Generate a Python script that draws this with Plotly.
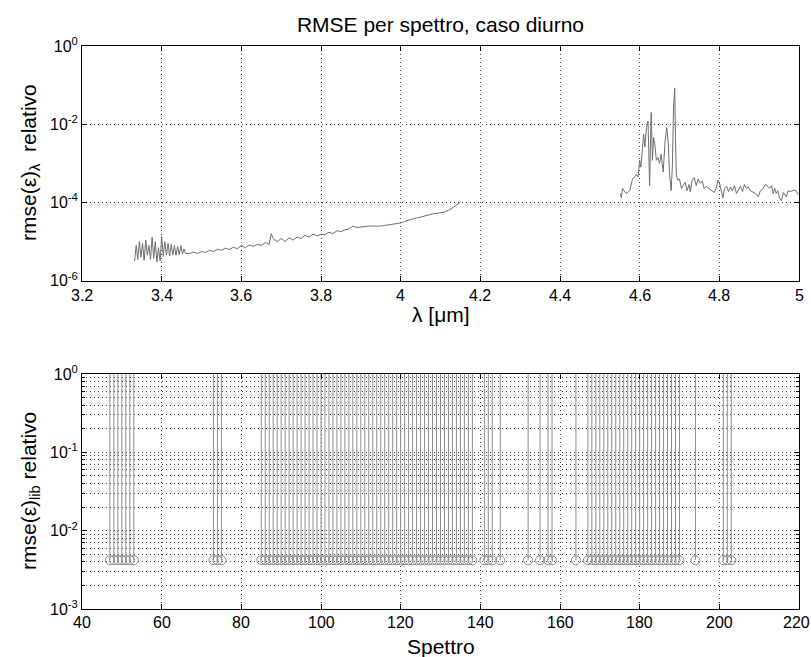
import plotly.graph_objects as go

# ---------------- data: top panel (relative RMSE per wavelength) ----------------
lam_a = [3.332, 3.336, 3.340, 3.344, 3.348, 3.352, 3.356, 3.360, 3.364, 3.368, 3.372,
         3.376, 3.380, 3.384, 3.388, 3.392, 3.396, 3.400, 3.404, 3.408, 3.412, 3.416,
         3.420, 3.424, 3.428, 3.432, 3.436, 3.440, 3.444, 3.448, 3.452, 3.456, 3.460,
         3.47, 3.48, 3.49, 3.50, 3.51, 3.52, 3.53, 3.54, 3.55, 3.56, 3.57, 3.58, 3.59,
         3.60, 3.61, 3.62, 3.63, 3.64, 3.65, 3.66, 3.67, 3.675, 3.68, 3.69, 3.70, 3.71,
         3.72, 3.73, 3.74, 3.75, 3.76, 3.77, 3.78, 3.79, 3.80, 3.81, 3.82, 3.83, 3.84,
         3.85, 3.86, 3.87, 3.88, 3.89, 3.90, 3.91, 3.92, 3.93, 3.94, 3.95, 3.96, 3.97,
         3.98, 3.99, 4.00, 4.01, 4.02, 4.03, 4.04, 4.05, 4.06, 4.07, 4.08, 4.09, 4.10,
         4.11, 4.12, 4.13, 4.14, 4.15]
rmse_a = [3.2e-6, 8e-6, 3.5e-6, 1.0e-5, 4e-6, 9e-6, 3.3e-6, 1.1e-5, 4.5e-6, 8e-6, 3.5e-6,
          1.3e-5, 3.8e-6, 1.0e-5, 3.0e-6, 7e-6, 3.2e-6, 1.35e-5, 4.2e-6, 1.0e-5, 4.5e-6, 9e-6,
          4.3e-6, 8.5e-6, 4.6e-6, 8e-6, 4.5e-6, 7.5e-6, 4.6e-6, 8e-6, 4.8e-6, 6.5e-6, 5e-6,
          5.0e-6, 5.4e-6, 5.0e-6, 5.6e-6, 5.3e-6, 6.0e-6, 5.6e-6, 6.4e-6, 6.0e-6, 6.8e-6, 6.3e-6, 7.2e-6, 6.6e-6,
          8.0e-6, 7.0e-6, 8.2e-6, 7.6e-6, 8.5e-6, 8.0e-6, 9.5e-6, 8.5e-6, 1.6e-5, 1.2e-5, 1.0e-5, 1.2e-5, 1.0e-5,
          1.25e-5, 1.1e-5, 1.3e-5, 1.2e-5, 1.45e-5, 1.3e-5, 1.55e-5, 1.4e-5, 1.55e-5, 1.5e-5, 1.75e-5, 1.6e-5, 1.9e-5,
          1.8e-5, 2.0e-5, 2.1e-5, 2.5e-5, 2.3e-5, 2.4e-5, 2.4e-5, 2.5e-5, 2.5e-5, 2.45e-5, 2.5e-5, 2.6e-5, 2.7e-5,
          2.9e-5, 2.9e-5, 3.0e-5, 3.3e-5, 3.6e-5, 3.8e-5, 4.0e-5, 4.2e-5, 4.5e-5, 4.8e-5, 5.1e-5, 5.3e-5, 5.5e-5,
          5.7e-5, 6.3e-5, 7.2e-5, 8.5e-5, 1.02e-4]

lam_b = [4.552, 4.554, 4.557, 4.566, 4.575, 4.582, 4.587, 4.592, 4.596, 4.600, 4.603, 4.606,
         4.610, 4.613, 4.617, 4.621, 4.625, 4.628, 4.629, 4.632, 4.635, 4.638, 4.642, 4.646,
         4.650, 4.654, 4.659, 4.664, 4.668, 4.672, 4.675, 4.679, 4.682, 4.685, 4.688, 4.690,
         4.692, 4.695, 4.700, 4.705, 4.709, 4.714, 4.719, 4.724, 4.727, 4.732, 4.737, 4.742,
         4.747, 4.752, 4.757, 4.762, 4.767, 4.774, 4.781, 4.787, 4.792, 4.797, 4.801, 4.806,
         4.809, 4.813, 4.818, 4.823, 4.828, 4.833, 4.838, 4.843, 4.848, 4.853, 4.858, 4.863,
         4.868, 4.873, 4.878, 4.885, 4.891, 4.898, 4.903, 4.910, 4.916, 4.921, 4.926, 4.931,
         4.935, 4.939, 4.943, 4.947, 4.951, 4.956, 4.961, 4.968, 4.973, 4.978, 4.983, 4.988,
         4.993, 4.998]
rmse_b = [1.7e-4, 1.3e-4, 2.3e-4, 1.7e-4, 2.0e-4, 4.0e-4, 4.5e-4, 5.2e-4, 4.5e-4, 1.2e-3, 8e-4, 1.7e-3,
          5.6e-3, 2.6e-3, 8.2e-3, 1.2e-2, 2.7e-4, 9e-3, 2e-2, 1.2e-3, 4.6e-3, 3.1e-3, 1.2e-3, 1.4e-3,
          1.0e-3, 1.7e-3, 6e-4, 3.8e-3, 8.2e-3, 3.1e-3, 5.4e-4, 2.0e-4, 8e-4, 2.6e-2, 8.5e-2, 3.8e-3,
          5.4e-4, 3.7e-4, 4e-4, 2.3e-4, 2.7e-4, 3.3e-4, 2.0e-4, 2.9e-4, 1.9e-4, 3.7e-4, 4.3e-4, 2.7e-4,
          4.0e-4, 3.1e-4, 3.5e-4, 2.3e-4, 2.6e-4, 2.3e-4, 2.0e-4, 1.8e-4, 2.3e-4, 3.8e-4, 3.0e-4, 1.9e-4,
          1.3e-4, 2.3e-4, 2.6e-4, 1.9e-4, 2.5e-4, 2.0e-4, 2.7e-4, 1.7e-4, 2.2e-4, 2.6e-4, 1.9e-4, 2.9e-4,
          2.3e-4, 2.5e-4, 2.0e-4, 1.8e-4, 1.7e-4, 1.4e-4, 2.0e-4, 2.3e-4, 2.9e-4, 2.6e-4, 2.3e-4, 2.7e-4,
          1.7e-4, 2.3e-4, 1.7e-4, 2.0e-4, 1.3e-4, 1.1e-4, 1.8e-4, 1.4e-4, 2.0e-4, 1.9e-4, 2.0e-4, 2.1e-4,
          2.0e-4, 1.6e-4]

# ---------------- data: bottom panel (relative RMSE per library spectrum) ----------------
spettro = [47, 48, 49, 50, 51, 52, 53,
           73, 74, 75,
           85, 86, 87, 88, 89, 90, 91, 92, 93, 94, 95, 96, 97, 98, 99, 100, 101, 102, 103, 104,
           105, 106, 107, 108, 109, 110, 111, 112, 113, 114, 115, 116, 117, 118, 119, 120, 121,
           122, 123, 124, 125, 126, 127, 128, 129, 130, 131, 132, 133, 134, 135, 136, 137, 138,
           141, 142, 143, 145,
           152, 155, 157, 158,
           164,
           167, 168, 169, 170, 171, 172, 173, 174, 175, 176, 177, 178, 179, 180, 181, 182, 183,
           184, 185, 186, 187, 188, 189, 190,
           194,
           201, 202, 203]
rmse_lib = [0.0042] * len(spettro)
stem_top = 1.0  # stems run up to the top of the log axis

# ---------------- tick labels ----------------
top_x_ticks = [3.2, 3.4, 3.6, 3.8, 4.0, 4.2, 4.4, 4.6, 4.8, 5.0]
top_x_text = ["3.2", "3.4", "3.6", "3.8", "4", "4.2", "4.4", "4.6", "4.8", "5"]
top_y_ticks = [1e-6, 1e-4, 1e-2, 1e0]
top_y_text = ["10<sup>-6</sup>", "10<sup>-4</sup>", "10<sup>-2</sup>", "10<sup>0</sup>"]
bot_x_ticks = [40, 60, 80, 100, 120, 140, 160, 180, 200, 220]
bot_x_text = ["40", "60", "80", "100", "120", "140", "160", "180", "200", "220"]
bot_y_ticks = [1e-3, 1e-2, 1e-1, 1e0]
bot_y_text = ["10<sup>-3</sup>", "10<sup>-2</sup>", "10<sup>-1</sup>", "10<sup>0</sup>"]
bot_y_minor = [m * 10 ** e for e in (-3, -2, -1) for m in range(2, 10)]

FONT = "Liberation Sans, Arial, Helvetica, sans-serif"
LINE_GRAY = "#6e6e6e"
STEM_GRAY = "#8c8c8c"
GRID = "#444444"
DOTS = "1px,3px"

W, H = 811, 657

fig = go.Figure()
fig.add_trace(go.Scatter(x=lam_a, y=rmse_a, mode="lines",
                         line=dict(color=LINE_GRAY, width=1), xaxis="x", yaxis="y",
                         showlegend=False))
fig.add_trace(go.Scatter(x=lam_b, y=rmse_b, mode="lines",
                         line=dict(color=LINE_GRAY, width=1), xaxis="x", yaxis="y",
                         showlegend=False))

sx, sy = [], []
for s, v in zip(spettro, rmse_lib):
    sx += [s, s, None]
    sy += [v, stem_top, None]
fig.add_trace(go.Scatter(x=sx, y=sy, mode="lines", line=dict(color=STEM_GRAY, width=1),
                         xaxis="x2", yaxis="y2", showlegend=False))
fig.add_trace(go.Scatter(x=spettro, y=rmse_lib, mode="markers",
                         marker=dict(symbol="circle-open", size=9, color=STEM_GRAY,
                                     line=dict(width=1)),
                         xaxis="x2", yaxis="y2", showlegend=False))

common = dict(showline=True, linecolor="black", linewidth=1, mirror="ticks",
              ticks="inside", ticklen=5, tickcolor="black",
              tickfont=dict(family=FONT, size=16, color="black"),
              showgrid=True, gridcolor=GRID, griddash=DOTS, gridwidth=1,
              zeroline=False, automargin=False)

# plot areas in page pixels: x 82..799, y 46..281 (top) and 374..609 (bottom)
def px_x(p):
    return (p - 82) / 717.0

def px_y(p):
    return (609 - p) / 563.0

TITLE_SIZE = 21
TICK_FONT = dict(family=FONT, size=16, color="black")
annotations = [
    dict(text="λ [μm]", x=0.5, y=px_y(314), xref="paper", yref="paper",
         showarrow=False, font=dict(family=FONT, size=TITLE_SIZE), yanchor="middle"),
    dict(text="Spettro", x=0.5, y=px_y(646), xref="paper", yref="paper",
         showarrow=False, font=dict(family=FONT, size=TITLE_SIZE), yanchor="middle"),
    dict(text="rmse(ε)<sub>λ</sub>  relativo", x=px_x(30), y=px_y(163), xref="paper",
         yref="paper", showarrow=False, textangle=-90,
         font=dict(family=FONT, size=TITLE_SIZE), xanchor="center", yanchor="middle"),
    dict(text="rmse(ε)<sub>lib</sub> relativo", x=px_x(30), y=px_y(491), xref="paper",
         yref="paper", showarrow=False, textangle=-90,
         font=dict(family=FONT, size=TITLE_SIZE), xanchor="center", yanchor="middle"),
]
# x tick labels placed as text at their tick values
for v, t in zip(top_x_ticks, top_x_text):
    annotations.append(dict(text=t, x=v, xref="x", y=px_y(295), yref="paper",
                            showarrow=False, xanchor="center", yanchor="middle",
                            borderpad=0, font=TICK_FONT))
for v, t in zip(bot_x_ticks, bot_x_text):
    last = (v == bot_x_ticks[-1])
    annotations.append(dict(text=t, x=(px_x(811) if last else v),
                            xref=("paper" if last else "x2"), y=px_y(622.5), yref="paper",
                            showarrow=False, xanchor=("right" if last else "center"),
                            yanchor="middle", borderpad=0, font=TICK_FONT))

fig.update_layout(
    width=W, height=H,
    margin=dict(l=82, r=12, t=46, b=48, pad=0),
    paper_bgcolor="white", plot_bgcolor="white",
    font=dict(family=FONT, color="black"),
    title=dict(text="RMSE per spettro, caso diurno",
               x=0.5 * (82 + 799) / W, xanchor="center",
               y=1 - 25 / H, yanchor="middle",
               font=dict(family=FONT, size=TITLE_SIZE, color="black")),
    annotations=annotations,
    xaxis=dict(domain=[0, 1], anchor="y", range=[3.2, 5.0], tickvals=top_x_ticks,
               showticklabels=False, **common),
    yaxis=dict(domain=[0.583, 1], anchor="x", type="log", range=[-6, 0],
               tickvals=top_y_ticks, ticktext=top_y_text, **common),
    xaxis2=dict(domain=[0, 1], anchor="y2", range=[40, 220], tickvals=bot_x_ticks,
                showticklabels=False, **common),
    yaxis2=dict(domain=[0, 0.4174], anchor="x2", type="log", range=[-3, 0],
                tickvals=bot_y_ticks, ticktext=bot_y_text,
                minor=dict(tickvals=bot_y_minor, ticks="inside", ticklen=3,
                           tickcolor="black", showgrid=True, gridcolor=GRID,
                           griddash=DOTS, gridwidth=1),
                **common),
)

# remove the default 8px page margin so the figure fills the window exactly
fig.write_html("out.html", config={"displayModeBar": False},
               post_script="document.body.style.margin='0';"
                           "document.body.style.overflow='hidden';")
